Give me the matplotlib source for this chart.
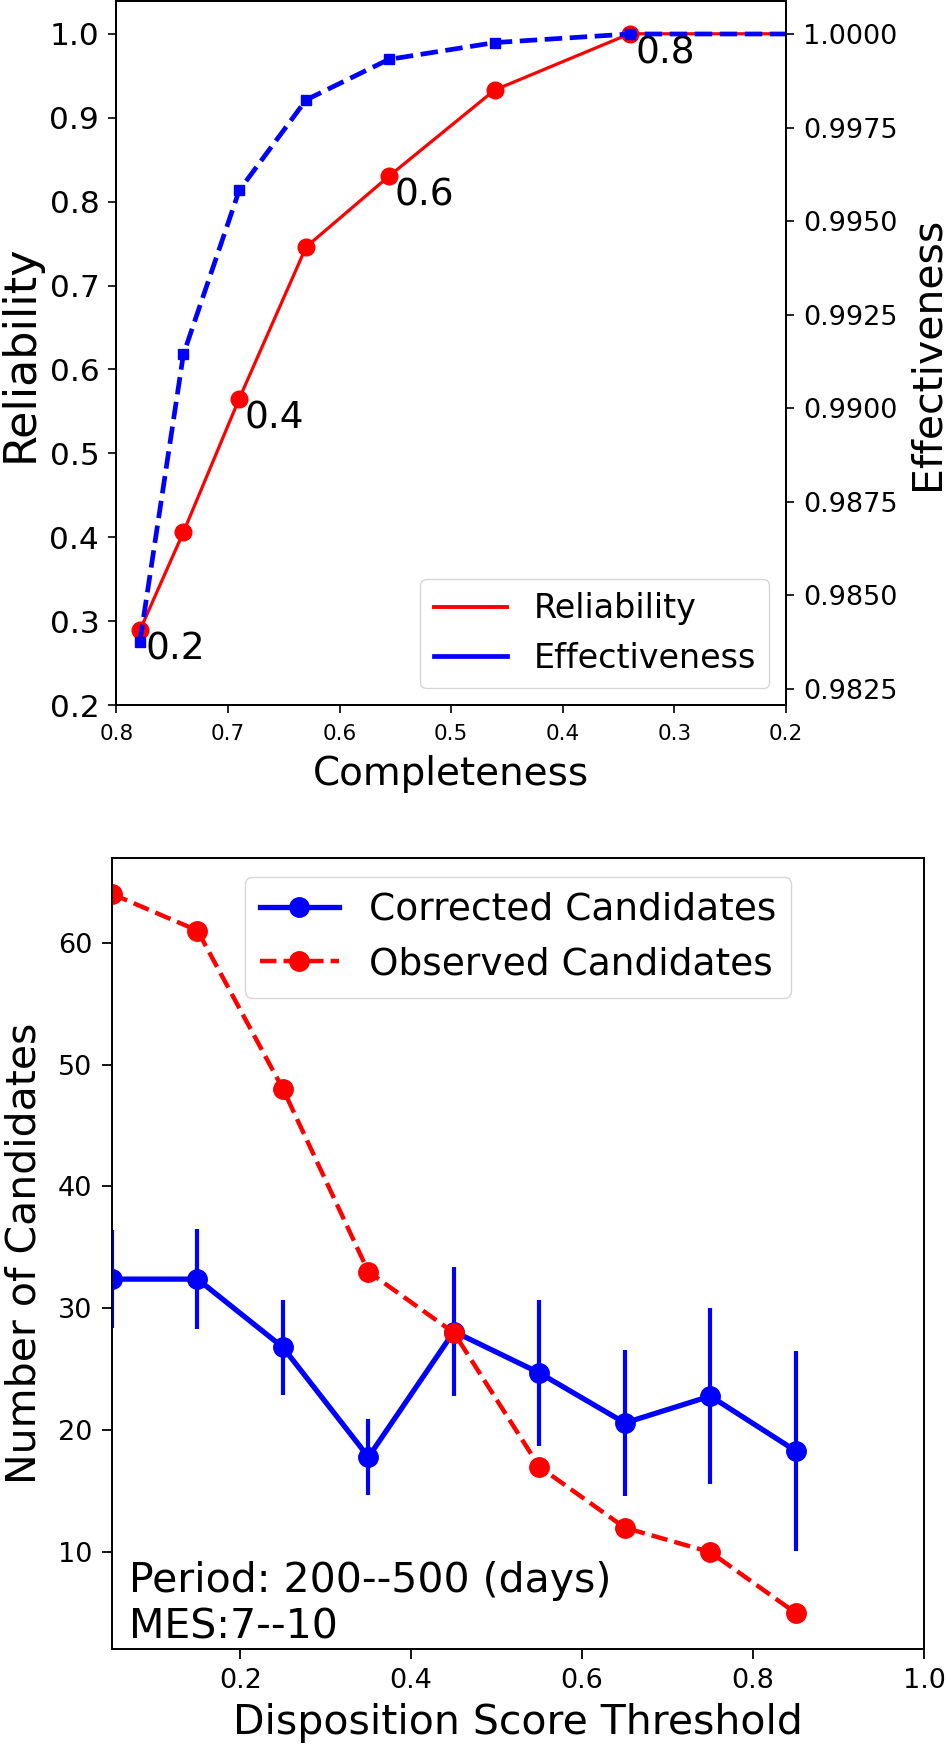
import matplotlib
matplotlib.use("Agg")
import matplotlib.pyplot as plt
from matplotlib.lines import Line2D

# -----------------------------
# Top panel: reliability / effectiveness vs completeness
# -----------------------------
thresholds = ["0.2", "0.3", "0.4", "0.5", "0.6", "0.7", "0.8", "0.9"]
completeness = [0.779, 0.740, 0.690, 0.630, 0.556, 0.461, 0.340, 0.17]
reliability = [0.289, 0.406, 0.565, 0.746, 0.830, 0.933, 1.0, 1.0]
effectiveness = [0.98376, 0.99144, 0.99582, 0.99824, 0.99932, 0.99977, 1.0, 1.0]
labelled = ["0.2", "0.4", "0.6", "0.8"]

# -----------------------------
# Bottom panel: candidates vs disposition score threshold
# -----------------------------
score_threshold = [0.05, 0.15, 0.25, 0.35, 0.45, 0.55, 0.65, 0.75, 0.85]
corrected = [32.4, 32.4, 26.8, 17.8, 28.1, 24.7, 20.6, 22.8, 18.3]
corrected_err = [4.0, 4.1, 3.9, 3.1, 5.3, 6.0, 6.0, 7.2, 8.2]
observed = [64, 61, 48, 33, 28, 17, 12, 10, 5]

fig = plt.figure(figsize=(9.46, 17.5), dpi=100)

# top panel
ax1 = fig.add_axes([0.1231, 0.5971, 0.7077, 0.4023])
ax1.plot(completeness, reliability, color="red", lw=2.3)
ax1.plot(completeness, reliability, "o", color="red", ms=12)
for lbl, x, y in zip(thresholds, completeness, reliability):
    if lbl in labelled:
        ax1.annotate(lbl, (x, y), xytext=(4, -1), textcoords="offset points",
                     fontsize=27, va="top", ha="left")
ax1.set_xlim(0.8, 0.2)
ax1.set_ylim(0.2, 1.039)
ax1.set_xlabel("Completeness", fontsize=28, labelpad=8)
ax1.set_ylabel("Reliability", fontsize=32, labelpad=6)
ax1.tick_params(axis="y", labelsize=22.5, length=5.8, width=1.2, pad=6.5)
ax1.tick_params(axis="x", labelsize=15.5, length=5.5, width=1.2, pad=8)

ax2 = ax1.twinx()
ax2.plot(completeness, effectiveness, "--", color="blue", lw=3.4)
ax2.plot(completeness, effectiveness, "s", color="blue", ms=7)
ax2.set_ylim(0.98207, 1.00088)
ax2.set_yticks([0.9825, 0.985, 0.9875, 0.99, 0.9925, 0.995, 0.9975, 1.0])
ax2.ticklabel_format(axis="y", useOffset=False)
ax2.set_ylabel("Effectiveness", fontsize=29.5, labelpad=7)
ax2.tick_params(axis="y", labelsize=19.5, length=5.8, width=1.2, pad=6.5)

for a in (ax1, ax2):
    for s in a.spines.values():
        s.set_linewidth(1.4)

handles = [Line2D([], [], color="red", lw=2.8),
           Line2D([], [], color="blue", lw=3.4)]
ax2.legend(handles, ["Reliability", "Effectiveness"], loc="lower right",
           fontsize=24, handlelength=2.2)

# bottom panel
ax3 = fig.add_axes([0.1184, 0.0577, 0.8584, 0.4520])
ax3.errorbar(score_threshold, corrected, yerr=corrected_err, fmt="none",
             ecolor="blue", elinewidth=3)
ax3.plot(score_threshold, corrected, "-o", color="blue", lw=3.8, ms=14,
         label="Corrected Candidates")
ax3.plot(score_threshold, observed, "--o", color="red", lw=3.2, ms=14,
         label="Observed Candidates")
ax3.set_xlim(0.05, 1.0)
ax3.set_xlabel("Disposition Score Threshold", fontsize=29.5, labelpad=6)
ax3.set_ylabel("Number of Candidates", fontsize=29.5, labelpad=10)
ax3.tick_params(labelsize=19.5, length=7, width=1.3, pad=7)
for s in ax3.spines.values():
    s.set_linewidth(1.4)
ax3.text(0.07, 2.2, "Period: 200--500 (days)\nMES:7--10", fontsize=29.5,
         va="bottom", ha="left")
ax3.legend(loc="upper center", fontsize=27, handlelength=2.1)

fig.savefig("out.png", dpi=100)
